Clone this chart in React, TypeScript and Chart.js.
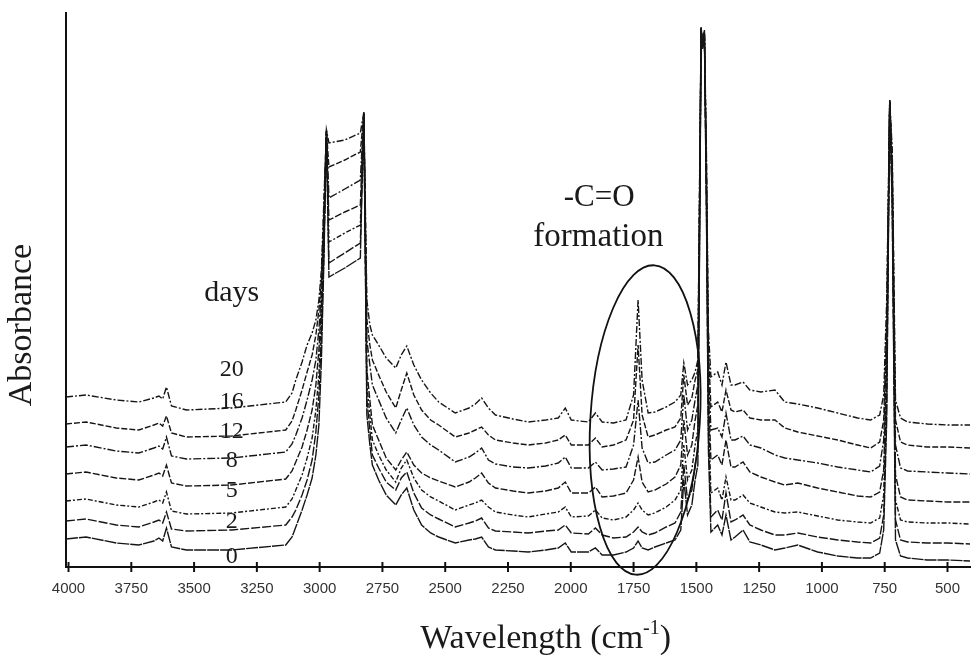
import { useEffect, useRef } from 'react';
import { Chart, registerables } from 'chart.js';

Chart.register(...registerables);

// Wavenumbers (cm^-1), shared by all spectra
const wavenumbers = [
  4010, 3930, 3810, 3720, 3660, 3640, 3625, 3610, 3590, 3530,
  3350, 3135, 3110, 3095, 3070, 3050, 3030, 3015, 3003, 2993,
  2983, 2973, 2963, 2900, 2838, 2824, 2812, 2800, 2790, 2765,
  2735, 2697, 2675, 2653, 2625, 2594, 2558, 2526, 2460, 2405,
  2380, 2355, 2328, 2300, 2230, 2170, 2100, 2050, 2022, 1998,
  1930, 1902, 1875, 1830, 1780, 1750, 1732, 1716, 1692, 1665,
  1620, 1585, 1562, 1550, 1535, 1518, 1505, 1494, 1486, 1481,
  1475, 1468, 1460, 1452, 1442, 1415, 1398, 1382, 1362, 1346,
  1314, 1287, 1243, 1187, 1148, 1096, 1017, 937, 858, 806,
  770, 754, 742, 730, 720, 707, 687, 659, 580, 500,
  410,
];

// Absorbance (arbitrary units, stacked spectra)
const day20 = [
  170, 172, 167, 165, 169, 171, 168, 180, 161, 157,
  159, 165, 174, 187, 205, 222, 234, 247, 267, 297,
  367, 437, 424, 427, 434, 455, 267, 242, 232, 222,
  209, 199, 212, 221, 202, 187, 174, 165, 154, 159,
  163, 169, 159, 152, 148, 145, 147, 149, 159, 147,
  145, 154, 145, 144, 147, 172, 267, 187, 154, 155,
  160, 165, 172, 204, 182, 187, 195, 207, 417, 540,
  522, 537, 417, 237, 190, 195, 182, 205, 182, 182,
  185, 177, 175, 177, 165, 163, 159, 154, 149, 147,
  152, 172, 267, 467, 417, 167, 149, 145, 143, 142,
  142,
];
const day16 = [
  143, 145, 139, 137, 142, 144, 141, 151, 134, 130,
  131, 137, 146, 157, 177, 195, 212, 232, 257, 287,
  357, 436, 400, 407, 415, 454, 247, 222, 207, 192,
  175, 159, 177, 194, 172, 157, 147, 142, 130, 134,
  137, 140, 132, 127, 124, 122, 124, 127, 132, 122,
  122, 129, 120, 122, 127, 147, 222, 152, 130, 132,
  137, 140, 149, 192, 162, 169, 187, 197, 407, 539,
  521, 536, 407, 217, 160, 165, 155, 177, 157, 155,
  157, 149, 147, 147, 139, 135, 131, 127, 122, 119,
  125, 147, 247, 467, 407, 147, 125, 122, 120, 120,
  119,
];
const day12 = [
  120, 122, 116, 114, 119, 121, 118, 130, 111, 108,
  109, 115, 123, 132, 149, 167, 187, 207, 237, 277,
  347, 437, 369, 378, 387, 455, 227, 202, 182, 167,
  149, 134, 147, 159, 142, 130, 122, 117, 105, 110,
  114, 119, 107, 103, 100, 99, 101, 104, 110, 99,
  99, 105, 97, 98, 100, 122, 167, 119, 104, 105,
  112, 117, 127, 172, 137, 147, 167, 182, 397, 539,
  520, 535, 397, 197, 137, 139, 130, 154, 127, 127,
  131, 122, 119, 112, 109, 107, 104, 100, 97, 95,
  101, 127, 227, 466, 397, 122, 99, 96, 95, 94,
  93,
];
const day8 = [
  93, 95, 89, 87, 92, 94, 91, 102, 84, 81,
  82, 88, 96, 105, 120, 137, 157, 182, 217, 262,
  337, 435, 347, 355, 362, 453, 197, 167, 142, 127,
  109, 97, 107, 115, 102, 94, 89, 86, 80, 85,
  89, 94, 84, 79, 76, 74, 76, 79, 85, 74,
  74, 80, 70, 71, 74, 87, 110, 85, 75, 77,
  83, 90, 102, 147, 112, 122, 147, 162, 387, 538,
  519, 534, 387, 177, 107, 112, 102, 127, 100, 100,
  105, 95, 90, 85, 82, 84, 79, 75, 71, 70,
  75, 97, 207, 465, 387, 92, 70, 67, 66, 65,
  65,
];
const day5 = [
  66, 68, 62, 60, 65, 67, 64, 75, 56, 53,
  54, 60, 68, 77, 92, 109, 129, 157, 192, 247,
  327, 436, 325, 334, 342, 454, 182, 152, 127, 112,
  97, 85, 99, 107, 89, 77, 70, 66, 57, 62,
  64, 67, 60, 55, 52, 50, 53, 55, 60, 50,
  51, 57, 49, 47, 50, 57, 64, 57, 52, 54,
  60, 67, 77, 122, 87, 97, 122, 137, 377, 539,
  520, 535, 377, 157, 74, 79, 67, 90, 67, 67,
  72, 64, 60, 55, 54, 55, 51, 47, 45, 44,
  49, 72, 187, 466, 377, 67, 47, 45, 44, 44,
  43,
];
const day2 = [
  46, 48, 42, 40, 45, 47, 44, 55, 38, 36,
  37, 42, 50, 57, 72, 87, 107, 135, 172, 232,
  317, 434, 304, 314, 324, 452, 167, 137, 112, 99,
  85, 77, 89, 95, 74, 59, 52, 48, 40, 44,
  46, 49, 39, 36, 35, 34, 36, 37, 42, 34,
  33, 39, 32, 29, 30, 35, 40, 35, 32, 34,
  40, 44, 55, 102, 67, 77, 102, 117, 367, 537,
  518, 533, 367, 137, 50, 57, 47, 74, 45, 47,
  52, 42, 37, 32, 32, 34, 30, 27, 25, 24,
  29, 52, 167, 464, 367, 47, 27, 25, 24, 24,
  23,
];
const day0 = [
  28, 30, 24, 22, 26, 29, 26, 39, 20, 17,
  17, 22, 30, 40, 57, 72, 89, 112, 142, 207,
  307, 435, 290, 299, 309, 453, 152, 122, 102, 87,
  72, 62, 72, 79, 57, 42, 34, 30, 24, 27,
  28, 30, 20, 17, 16, 15, 17, 19, 24, 15,
  15, 19, 12, 12, 15, 19, 26, 19, 17, 20,
  24, 27, 37, 87, 52, 62, 87, 102, 357, 538,
  519, 534, 357, 117, 35, 42, 32, 52, 27, 30,
  37, 25, 22, 17, 19, 22, 15, 11, 9, 9,
  14, 37, 147, 465, 357, 27, 11, 9, 7, 7,
  6,
];

const seriesNames = ['20', '16', '12', '8', '5', '2', '0'];
const seriesValues = [day20, day16, day12, day8, day5, day2, day0];
const seriesDashes = [[7, 2, 2, 2], [6, 2], [8, 2, 2, 2], [7, 2], [5, 2, 2, 2], [9, 2], [12, 1]];

// Day labels placed next to the curves (x in cm^-1, y in a.u.)
const dayLabelX = 3350;
const dayLabelY = [197, 165, 135, 106, 76, 45, 10];

const tickValues = [4000, 3750, 3500, 3250, 3000, 2750, 2500, 2250, 2000, 1750, 1500, 1250, 1000, 750, 500];

const X_MIN = 410;
const X_MAX = 4010;
const Y_MAX = 554;

// Annotation (ellipse round the carbonyl band), in data units
const ELLIPSE_CX = 1704;
const ELLIPSE_CY = 147;
const ELLIPSE_RX = 218;
const ELLIPSE_RY = 155;
const ELLIPSE_ROT = 0.06;

const SERIF = '"Liberation Serif", "Times New Roman", serif';

const annotationPlugin = {
  id: 'ftirAnnotations',
  afterDatasetsDraw(chart: any) {
    const { ctx, chartArea, scales } = chart;
    const xs = scales.x;
    const ys = scales.y;
    ctx.save();
    ctx.strokeStyle = '#111';
    ctx.fillStyle = '#1a1a1a';

    // tick marks crossing the x axis
    ctx.lineWidth = 2;
    for (const v of tickValues) {
      const px = xs.getPixelForValue(v);
      ctx.beginPath();
      ctx.moveTo(px, chartArea.bottom - 5);
      ctx.lineTo(px, chartArea.bottom + 5);
      ctx.stroke();
    }

    // ellipse
    const cx = xs.getPixelForValue(ELLIPSE_CX);
    const cy = ys.getPixelForValue(ELLIPSE_CY);
    const rx = Math.abs(xs.getPixelForValue(ELLIPSE_CX - ELLIPSE_RX) - cx);
    const ry = Math.abs(ys.getPixelForValue(ELLIPSE_CY + ELLIPSE_RY) - cy);
    ctx.lineWidth = 1.8;
    ctx.beginPath();
    ctx.ellipse(cx, cy, rx, ry, ELLIPSE_ROT, 0, Math.PI * 2);
    ctx.stroke();

    // texts
    ctx.textAlign = 'center';
    ctx.textBaseline = 'middle';
    ctx.font = `30px ${SERIF}`;
    ctx.fillText('days', xs.getPixelForValue(dayLabelX), ys.getPixelForValue(274));
    ctx.font = `24px ${SERIF}`;
    seriesNames.forEach((n, i) => {
      ctx.fillText(n, xs.getPixelForValue(dayLabelX), ys.getPixelForValue(dayLabelY[i]));
    });
    ctx.font = `31px ${SERIF}`;
    ctx.fillText('-C=O', xs.getPixelForValue(1887), ys.getPixelForValue(369));
    ctx.font = `33px ${SERIF}`;
    ctx.fillText('formation', xs.getPixelForValue(1890), ys.getPixelForValue(330));

    // y axis title
    ctx.save();
    ctx.font = `34px ${SERIF}`;
    ctx.translate(chartArea.left - 44, ys.getPixelForValue(242));
    ctx.rotate(-Math.PI / 2);
    ctx.fillText('Absorbance', 0, 0);
    ctx.restore();

    // x axis title with superscript
    const main = 'Wavelength (cm';
    const sup = '-1';
    const close = ')';
    ctx.font = `34px ${SERIF}`;
    const w1 = ctx.measureText(main).width;
    const w3 = ctx.measureText(close).width;
    ctx.font = `20px ${SERIF}`;
    const w2 = ctx.measureText(sup).width;
    const total = w1 + w2 + w3;
    const tx = xs.getPixelForValue(2100) - total / 2;
    const base = chartArea.bottom + 81;
    ctx.textAlign = 'left';
    ctx.textBaseline = 'alphabetic';
    ctx.font = `34px ${SERIF}`;
    ctx.fillText(main, tx, base);
    ctx.font = `20px ${SERIF}`;
    ctx.fillText(sup, tx + w1, base - 14);
    ctx.font = `34px ${SERIF}`;
    ctx.fillText(close, tx + w1 + w2, base);

    ctx.restore();
  },
};

export default function App() {
  const canvasRef = useRef<HTMLCanvasElement | null>(null);

  useEffect(() => {
    const canvas = canvasRef.current;
    if (!canvas) return;
    const datasets = seriesValues.map((vals, i) => ({
      label: `${seriesNames[i]} days`,
      data: wavenumbers.map((w, j) => ({ x: w, y: vals[j] })),
      borderColor: '#151515',
      borderWidth: 1.4,
      borderDash: seriesDashes[i],
      pointRadius: 0,
      tension: 0,
      fill: false,
    }));
    const chart = new Chart(canvas, {
      type: 'line',
      data: { datasets },
      options: {
        animation: false,
        responsive: false,
        devicePixelRatio: 1,
        layout: { padding: { top: 13, right: 0, left: 0, bottom: 0 } },
        plugins: {
          legend: { display: false },
          tooltip: { enabled: false },
        },
        scales: {
          x: {
            type: 'linear',
            reverse: true,
            min: X_MIN,
            max: X_MAX,
            afterBuildTicks: (scale: any) => {
              scale.ticks = tickValues.map((v) => ({ value: v }));
            },
            afterFit: (scale: any) => {
              scale.height = 89;
            },
            grid: { display: false, drawTicks: false },
            border: { display: true, color: '#111', width: 2 },
            ticks: {
              autoSkip: false,
              maxRotation: 0,
              padding: 13,
              color: '#333',
              font: { family: '"Liberation Sans", Arial, sans-serif', size: 15 },
              callback: (v: any) => String(v),
            },
          },
          y: {
            type: 'linear',
            min: 0,
            max: Y_MAX,
            afterFit: (scale: any) => {
              scale.width = 66;
            },
            grid: { display: false, drawTicks: false },
            border: { display: true, color: '#111', width: 2 },
            ticks: { display: false },
          },
        },
      },
      plugins: [annotationPlugin],
    });
    return () => chart.destroy();
  }, []);

  return (
    <div style={{ position: 'absolute', left: 0, top: 0, width: 973, height: 656, background: '#fff' }}>
      <canvas ref={canvasRef} width={973} height={656} style={{ width: 973, height: 656 }} />
    </div>
  );
}
